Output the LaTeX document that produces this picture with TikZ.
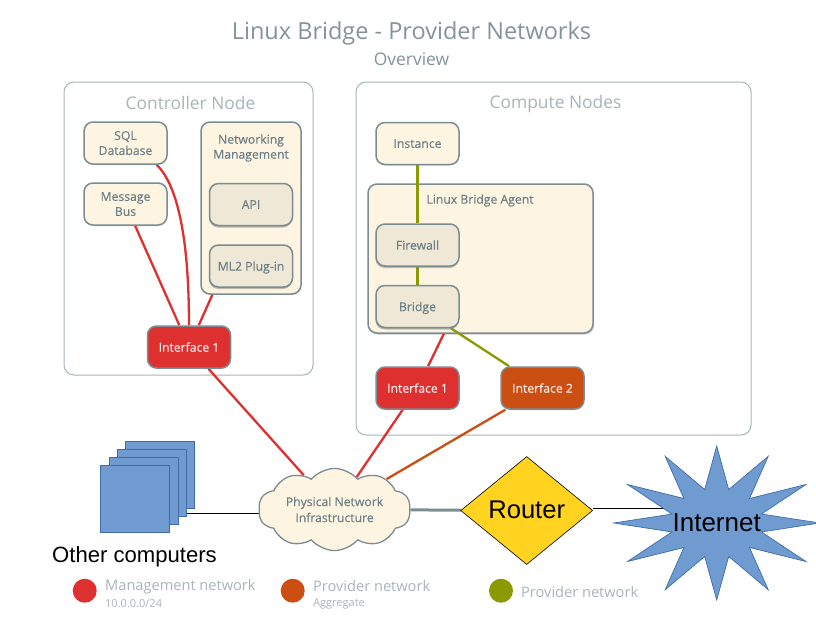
\documentclass[tikz,border=0pt]{standalone}
\usepackage{fontspec}
\setmainfont{Open Sans}
\newfontfamily\plainfont{Liberation Sans}
\newfontfamily\cardfont[FakeBold=0.35]{Open Sans}
\usetikzlibrary{shapes.geometric,shapes.symbols,shadows}
\definecolor{mgmt red}{HTML}{DF3030}
\definecolor{provider orange}{HTML}{CB4E13}
\definecolor{provider olive}{HTML}{8A9A00}
\definecolor{cream}{HTML}{FDF5E1}
\definecolor{dark cream}{HTML}{EFE8D6}
\definecolor{slate}{HTML}{7B8D92}
\definecolor{label grey}{HTML}{6E8087}
\definecolor{pale grey}{HTML}{A9B4B8}
\definecolor{sky}{HTML}{6F9BD0}
\definecolor{sky edge}{HTML}{3F6DA8}
\definecolor{router yellow}{HTML}{FFD320}
\pgfdeclarelayer{panels}
\pgfdeclarelayer{edges}
\pgfsetlayers{panels,edges,main}
\tikzset{
  panel/.style={draw=pale grey,line width=1pt,fill=white,rounded corners=10pt,inner sep=0pt},
  paneltitle/.style={text=pale grey,font=\fontsize{17.4}{20}\selectfont,inner sep=0pt},
  card/.style={draw=slate,line width=1.5pt,fill=cream,rounded corners=9pt,minimum width=83pt,minimum height=42pt,
    inner sep=0pt,align=center,text=label grey,font=\cardfont\fontsize{12.2}{15}\selectfont,text depth=-3pt,
    drop shadow={shadow xshift=0pt,shadow yshift=-1pt,opacity=.25}},
  innercard/.style={card,fill=dark cream,drop shadow={shadow xshift=-.5pt,shadow yshift=-2pt,opacity=.5}},
  ifcard/.style={card,fill=#1,text=white!90!#1,draw=slate},
  cardtext/.style={inner sep=0pt,align=center,text=label grey,font=\cardfont\fontsize{12.2}{15}\selectfont},
  pipe/.style={line width=2.3pt,draw=#1},
  computer/.style={draw=sky edge,line width=.8pt,fill=sky,minimum width=69pt,minimum height=67pt,inner sep=0pt},
  bigtext/.style={inner sep=0pt,text=black,font=\plainfont\fontsize{#1}{#1}\selectfont},
  legenddot/.style={circle,fill=#1,minimum size=24pt,inner sep=0pt},
  legendtext/.style={anchor=west,inner sep=0pt,text=pale grey,font=\fontsize{14.6}{17}\selectfont},
  legendnote/.style={anchor=west,inner sep=0pt,text=pale grey,font=\fontsize{11}{13}\selectfont}
}
\begin{document}
\begin{tikzpicture}[x=1pt,y=-1pt]
\useasboundingbox (0,0) rectangle (816,637);
\node [inner sep=0pt,text=label grey!85,font=\fontsize{23.5}{28}\selectfont] (title) at (411.5,33) {Linux Bridge - Provider Networks};
\node [inner sep=0pt,text=label grey!85,font=\fontsize{17.4}{20}\selectfont] (subtitle) at (411.5,59) {Overview};

\begin{pgfonlayer}{panels}
\node [panel,minimum width=249pt,minimum height=293pt] (controller) at (188.5,228.5) {};
\node [panel,minimum width=395pt,minimum height=353pt] (compute) at (553.5,258.5) {};
\node [card,minimum width=225pt,minimum height=149pt,drop shadow={shadow xshift=1pt,shadow yshift=-1.5pt,opacity=.4}] (agent) at (480.5,258.5) {};
\node [card,minimum width=100pt,minimum height=172pt] (networking management) at (251,208) {};
\end{pgfonlayer}
\node [paneltitle] (controller title) at (190.5,102.5) {Controller Node};
\node [paneltitle] (compute title) at (555.5,104) {Compute Nodes};

\node [card] (sql database) at (125.5,143) {SQL\\Database};
\node [card] (message bus) at (125.5,204) {Message\\Bus};
\node [cardtext] (networking title) at (251,148) {Networking\\Management};
\node [innercard] (api) at (251,204.5) {API};
\node [innercard] (ml2 plugin) at (251,266) {ML2 Plug-in};
\node [ifcard=mgmt red] (controller if) at (189,347) {Interface 1};

\node [card] (instance) at (417.5,143.5) {Instance};
\node [cardtext] (agent title) at (480,200.5) {Linux Bridge Agent};
\node [innercard] (firewall) at (417.5,245) {Firewall};
\node [innercard] (bridge) at (417.5,306.5) {Bridge};
\node [ifcard=mgmt red] (compute if 1) at (417.5,388) {Interface 1};
\node [ifcard=provider orange] (compute if 2) at (542.5,388) {Interface 2};

\foreach \n/\cx/\cy in {4/160/474.7,3/152/482.7,2/144/490.7,1/135/498.7}
  \node [computer] (computer \n) at (\cx,\cy) {};
\node [bigtext=22.1,anchor=west] (computers title) at (52,557) {Other computers};
\node [cloud,cloud puffs=10,cloud puff arc=100,aspect=2.1,draw=slate,line width=1.3pt,fill=cream,minimum width=152pt,minimum height=74pt,inner sep=0pt,align=center,text=label grey,font=\cardfont\fontsize{12.2}{16}\selectfont] (physical network) at (334.5,509.5) {Physical Network\\Infrastructure};
\node [diamond,draw=black,line width=.6pt,fill=router yellow,minimum width=132pt,minimum height=108pt,inner sep=0pt] (router) at (526.7,510.5) {};
\node [bigtext=25.6] (router text) at (526.7,510) {Router};

\draw [draw=sky edge,line width=.7pt,fill=sky] plot [samples at={0,...,23}]
  ({716.7+103*(1-.55*mod(\x,2))*cos(90+15*\x)},{523+77*(1-.55*mod(\x,2))*sin(90+15*\x)}) -- cycle;
\node [bigtext=26] (internet) at (716.7,523) {Internet};

\node [legenddot=mgmt red] (legend mgmt) at (84.7,590.7) {};
\node [legendtext] (legend mgmt text) at (105,586.5) {Management network};
\node [legendnote] (legend mgmt note) at (105,604) {10.0.0.0/24};
\node [legenddot=provider orange] (legend provider) at (292.7,590.7) {};
\node [legendtext] (legend provider text) at (313,586.5) {Provider network};
\node [legendnote] (legend provider note) at (313,604) {Aggregate};
\node [legenddot=provider olive] (legend olive) at (501,590.7) {};
\node [legendtext] (legend olive text) at (521,592.5) {Provider network};

\begin{pgfonlayer}{edges}
\draw [pipe=mgmt red] (sql database.-35) .. controls (178,185) and (189,240) .. (controller if.north);
\draw [pipe=mgmt red] (message bus) -- (controller if);
\draw [pipe=mgmt red] (networking management.-114) -- (controller if);
\draw [pipe=mgmt red] (controller if) -- (physical network);
\draw [pipe=mgmt red] (agent.-116.7) -- (compute if 1);
\draw [pipe=mgmt red] (compute if 1) -- (physical network);
\draw [pipe=provider orange] (compute if 2) -- (physical network);
\draw [pipe=provider olive] (instance) -- (firewall);
\draw [pipe=provider olive] (firewall) -- (bridge);
\draw [pipe=provider olive] (bridge) -- (compute if 2);
\draw [line width=3pt,draw=slate] (physical network) -- (router);
\draw [line width=.8pt,draw=black] (computer 3.-41) -- (computer 3.-41 -| physical network);
\draw [line width=.8pt,draw=black] ([yshift=2pt]router.east) -- ([yshift=2pt]router.east -| internet);
\end{pgfonlayer}
\end{tikzpicture}
\end{document}
